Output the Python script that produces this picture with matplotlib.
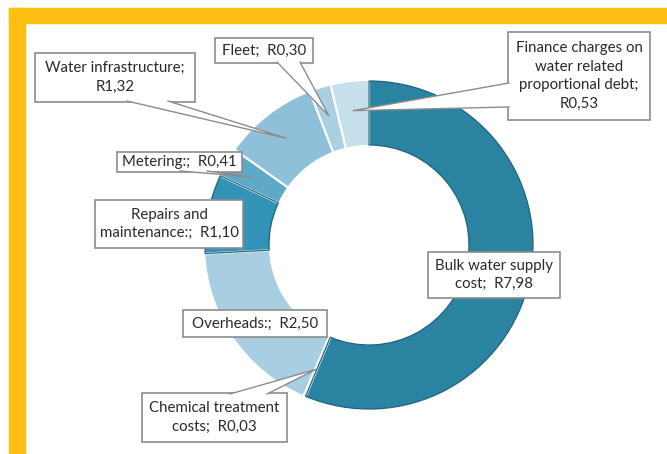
import numpy as np
import matplotlib
matplotlib.use('Agg')
import matplotlib.pyplot as plt
from matplotlib.patches import Rectangle, Polygon

# data
labels = ['Bulk water supply\ncost;  R7,98',
          'Chemical treatment\ncosts;  R0,03',
          'Overheads:;  R2,50',
          'Repairs and\nmaintenance:;  R1,10',
          'Metering:;  R0,41',
          'Water infrastructure;\nR1,32',
          'Fleet;  R0,30',
          'Finance charges on\nwater related\nproportional debt;\nR0,53']
values = [7.98, 0.03, 2.50, 1.10, 0.41, 1.32, 0.30, 0.53]
colors = ['#2b83a2', '#8dbdd6', '#a7cee1', '#3393b6', '#5ea8c8',
          '#8fc0da', '#a9cfe1', '#c6e0ec']
outlined = [True, False, False, True, False, False, False, False]

# label boxes in pixels (left, top, right, bottom) and callout pointer base
boxes = [(428, 252, 560, 298), (142, 393, 287, 442), (183, 310, 327, 337),
         (95, 200, 243, 248), (117, 152, 242, 172), (35, 53, 195, 102),
         (215, 38, 313, 63), (508, 32, 650, 120)]
pointers = [None, ('top', 230, 267), None, None, ('bottom', 180, 207),
            ('bottom', 127, 168), ('bottom', 277, 300), ('left', 83, 107)]

W, H = 667, 454
cx, cy, R = 369, 245, 165

fig = plt.figure(figsize=(6.67, 4.54), dpi=100)
ax = fig.add_axes([0, 0, 1, 1])

def px(x, y):
    return (x - cx) / R, (cy - y) / R

wedges, _ = ax.pie(values, colors=colors, startangle=90, counterclock=False,
                   radius=1, wedgeprops=dict(width=0.4, edgecolor='white', linewidth=1.5))
# darker outline on the two dark segments
rims, _ = ax.pie(values, startangle=90, counterclock=False, radius=0.994,
                 wedgeprops=dict(width=0.388, facecolor='none', edgecolor='#1d6380', linewidth=0.9))
for w, o in zip(rims, outlined):
    w.set_visible(o)

ax.set_xlim(px(0, 0)[0], px(W, 0)[0])
ax.set_ylim(px(0, H)[1], px(0, 0)[1])
ax.set_aspect('auto')
ax.axis('off')

total = sum(values)
cum = np.cumsum([0] + values[:-1])
edge = '#8c8c8c'

for i, lab in enumerate(labels):
    l, t, r, b = boxes[i]
    x0, y0 = px(l, b)
    x1, y1 = px(r, t)
    ax.add_patch(Rectangle((x0, y0), x1 - x0, y1 - y0, facecolor='white',
                           edgecolor=edge, linewidth=1.2, zorder=5))
    ax.text((x0 + x1) / 2, (y0 + y1) / 2, lab, ha='center', va='center',
            fontsize=10.8, family='Lato', color='#2a2a2a', linespacing=1.4, zorder=7)
    if pointers[i] is not None:
        side, a, c = pointers[i]
        ang = np.deg2rad(90 - 360 * (cum[i] + values[i] / 2) / total)
        tip = (0.82 * np.cos(ang), 0.82 * np.sin(ang))
        if side == 'top':
            p1, p2 = px(a, t + 1), px(c, t + 1)
        elif side == 'bottom':
            p1, p2 = px(a, b - 1), px(c, b - 1)
        else:
            p1, p2 = px(l + 1, a), px(l + 1, c)
        ax.add_patch(Polygon([p1, tip, p2], closed=True, facecolor='white',
                             edgecolor='none', zorder=6))
        ax.plot([p1[0], tip[0], p2[0]], [p1[1], tip[1], p2[1]], color=edge,
                linewidth=1.0, zorder=6)

# yellow frame
fig.add_artist(Rectangle((9 / W, 1 - 23 / H), 1 - 9 / W, 15 / H,
                         transform=fig.transFigure, color='#fdbf12', zorder=10))
fig.add_artist(Rectangle((9 / W, 0), 16 / W, 1 - 8 / H,
                         transform=fig.transFigure, color='#fdbf12', zorder=10))

fig.savefig('out.png', dpi=100)
